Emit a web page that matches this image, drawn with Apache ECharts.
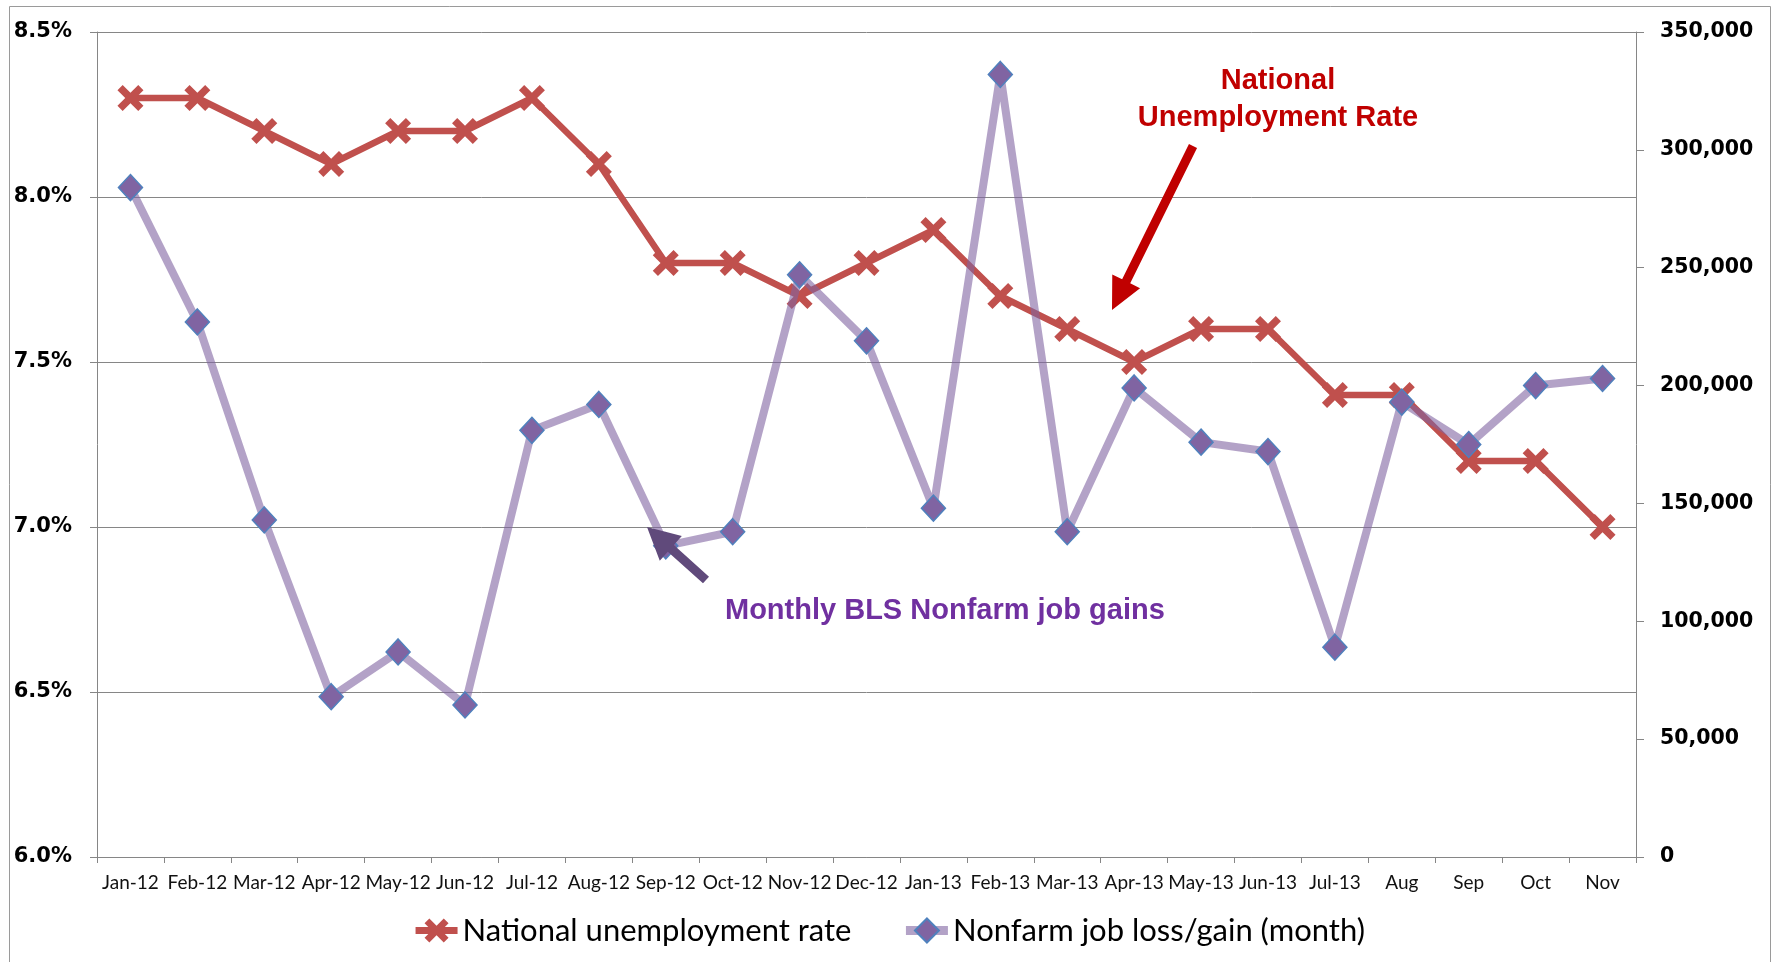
<!DOCTYPE html>
<html>
<head>
<meta charset="utf-8">
<script src="https://cdn.jsdelivr.net/npm/echarts@6/dist/echarts.min.js"></script>
<style>
html,body{margin:0;padding:0;background:#fff;}
#chart{width:1777px;height:962px;}
</style>
</head>
<body>
<div id="chart"></div>
<script>
const categories = ['Jan-12','Feb-12','Mar-12','Apr-12','May-12','Jun-12','Jul-12','Aug-12','Sep-12','Oct-12','Nov-12','Dec-12',
  'Jan-13','Feb-13','Mar-13','Apr-13','May-13','Jun-13','Jul-13','Aug','Sep','Oct','Nov'];
const unemploymentRate = [8.3,8.3,8.2,8.1,8.2,8.2,8.3,8.1,7.8,7.8,7.7,7.8,7.9,7.7,7.6,7.5,7.6,7.6,7.4,7.4,7.2,7.2,7.0];
const nonfarmJobs = [284000,227000,143000,68000,87000,64500,181000,192000,132000,138000,247000,219000,
  148000,332000,138000,199000,176000,172000,89000,193000,175000,200000,203000];
const leftTicks = {min: 6.0, max: 8.5, interval: 0.5};
const rightTicks = {min: 0, max: 350000, interval: 50000};
const seriesNames = ['National unemployment rate', 'Nonfarm job loss/gain (month)'];
const annotationRate = 'National\nUnemployment Rate';
const annotationJobs = 'Monthly BLS Nonfarm job gains';

const xSymbol = 'path://M0,4 L4,0 L10,6 L16,0 L20,4 L14,10 L20,16 L16,20 L10,14 L4,20 L0,16 L6,10 Z';

function arrowPoly(tx, ty, px, py, w, hw, hl) {
  const dx = px - tx, dy = py - ty, L = Math.hypot(dx, dy);
  const ux = dx / L, uy = dy / L, nx = -uy, ny = ux;
  const bx = px - ux * hl, by = py - uy * hl;
  return [
    [tx + nx * w / 2, ty + ny * w / 2],
    [bx + nx * w / 2, by + ny * w / 2],
    [bx + nx * hw / 2, by + ny * hw / 2],
    [px, py],
    [bx - nx * hw / 2, by - ny * hw / 2],
    [bx - nx * w / 2, by - ny * w / 2],
    [tx - nx * w / 2, ty - ny * w / 2]
  ];
}

const chart = echarts.init(document.getElementById('chart'), null, {renderer: 'canvas'});
const gridColor = '#868686';
const option = {
  animation: false,
  backgroundColor: '#fff',
  grid: {left: 97, right: 141, top: 32, bottom: 105, containLabel: false},
  legend: {
    data: [
      {name: seriesNames[0], lineStyle: {width: 7}},
      {name: seriesNames[1], lineStyle: {width: 9}}
    ],
    left: 'center',
    top: 910,
    itemGap: 50,
    itemWidth: 42,
    itemHeight: 30,
    textStyle: {fontFamily: 'Lato', fontSize: 31, color: '#000'}
  },
  xAxis: {
    type: 'category',
    data: categories,
    boundaryGap: true,
    axisLine: {show: true, lineStyle: {color: gridColor, width: 1}},
    axisTick: {show: true, alignWithLabel: false, length: 6, lineStyle: {color: gridColor}},
    axisLabel: {interval: 0, margin: 16, fontFamily: 'Lato', fontSize: 19, color: '#111'},
    splitLine: {show: false}
  },
  yAxis: [
    {
      type: 'value', position: 'left',
      min: leftTicks.min, max: leftTicks.max, interval: leftTicks.interval,
      axisLine: {show: true, lineStyle: {color: gridColor, width: 1}},
      axisTick: {show: true, length: 7, lineStyle: {color: gridColor}},
      axisLabel: {margin: 25, fontFamily: 'DejaVu Sans', fontWeight: 'bold', fontSize: 21, color: '#000',
        formatter: v => v.toFixed(1) + '%'},
      splitLine: {show: true, lineStyle: {color: gridColor, width: 1}}
    },
    {
      type: 'value', position: 'right',
      min: rightTicks.min, max: rightTicks.max, interval: rightTicks.interval,
      axisLine: {show: true, lineStyle: {color: gridColor, width: 1}},
      axisTick: {show: true, length: 8, lineStyle: {color: gridColor}},
      axisLabel: {margin: 24, fontFamily: 'DejaVu Sans', fontWeight: 'bold', fontSize: 20.5, color: '#000',
        formatter: v => v.toLocaleString('en-US')},
      splitLine: {show: false}
    }
  ],
  series: [
    {
      name: seriesNames[0],
      type: 'line',
      yAxisIndex: 0,
      data: unemploymentRate,
      z: 2,
      symbol: xSymbol,
      symbolSize: 26,
      showAllSymbol: true,
      lineStyle: {color: '#C0504D', width: 6.5},
      itemStyle: {color: '#C0504D'}
    },
    {
      name: seriesNames[1],
      type: 'line',
      yAxisIndex: 1,
      data: nonfarmJobs,
      z: 3,
      symbol: 'diamond',
      symbolSize: [24, 26],
      showAllSymbol: true,
      lineStyle: {color: 'rgba(128,100,162,0.6)', width: 8},
      itemStyle: {color: '#8064A2', borderColor: '#4F81BD', borderWidth: 1.5}
    }
  ],
  graphic: [
    {type: 'rect', z: 0, silent: true,
      shape: {x: 9.5, y: 6.5, width: 1761, height: 1000},
      style: {fill: 'none', stroke: '#9a9a9a', lineWidth: 1}},
    {type: 'text', z: 100, x: 1278, y: 62,
      style: {text: annotationRate, font: 'bold 29px "Liberation Sans"', fill: '#C00000',
        align: 'center', verticalAlign: 'top', lineHeight: 37}},
    {type: 'polygon', z: 100, shape: {points: arrowPoly(1193, 146, 1112, 310, 9, 31, 32)},
      style: {fill: '#C00000'}},
    {type: 'text', z: 100, x: 725, y: 596,
      style: {text: annotationJobs, font: 'bold 29px "Liberation Sans"', fill: '#7030A0',
        align: 'left', verticalAlign: 'top'}},
    {type: 'polygon', z: 100, shape: {points: arrowPoly(706, 580, 647, 527, 9, 33, 32)},
      style: {fill: '#604A7B'}}
  ]
};
chart.setOption(option);
</script>
</body>
</html>
